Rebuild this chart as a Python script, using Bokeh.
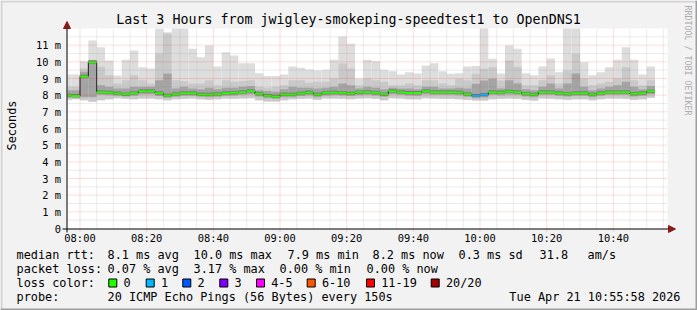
from datetime import datetime, timedelta
import math
from bokeh.plotting import figure
from bokeh.models import Range1d, Label, Arrow, NormalHead, ColumnDataSource
from bokeh.core.properties import value
from bokeh.embed import file_html
from bokeh.resources import INLINE

MONO = "DejaVu Sans Mono"

# ---------------- data (one bar per 150 s probe step, 07:55 .. 10:50) -------------
first_bar = datetime(2026, 4, 21, 7, 55, 0)
step_seconds = 150

median_ms = [
    7.98, 7.95, 9.12, 9.98, 8.18, 8.16, 8.10, 8.05, 8.12, 8.24,
    8.24, 8.12, 7.98, 8.06, 8.12, 8.12, 8.04, 8.04, 8.06, 8.12,
    8.14, 8.18, 8.24, 8.08, 7.97, 7.92, 8.04, 8.04, 8.10, 8.16,
    8.04, 8.14, 8.16, 8.14, 8.10, 8.17, 8.18, 8.14, 8.05, 8.24,
    8.18, 8.13, 8.13, 8.24, 8.18, 8.18, 8.18, 8.16, 8.06, 7.97,
    8.02, 8.18, 8.16, 8.22, 8.18, 8.08, 8.04, 8.18, 8.18, 8.12,
    8.08, 8.12, 8.12, 8.04, 8.12, 8.18, 8.18, 8.18, 8.08, 8.12,
    8.23,
]
smoke_max = [
    9.24, 9.24, 10.04, 11.28, 10.88, 10.08, 9.18, 10.12, 10.68, 9.68,
    9.60, 11.98, 11.78, 12.0, 12.0, 10.78, 10.28, 10.98, 9.72, 10.58,
    10.38, 9.92, 9.92, 9.32, 9.15, 9.15, 9.24, 9.72, 9.64, 9.54,
    9.48, 9.52, 10.12, 11.52, 11.08, 9.00, 10.12, 10.04, 9.52, 9.44,
    9.24, 9.38, 9.30, 9.78, 9.92, 9.44, 9.28, 9.32, 9.72, 9.75,
    12.0, 10.18, 9.30, 10.98, 10.78, 9.32, 9.20, 9.72, 10.20, 9.38,
    12.0, 12.0, 9.98, 9.20, 9.38, 9.68, 10.12, 10.88, 10.12, 9.24,
    9.72,
]
smoke_upper = [
    8.50, 8.50, 9.60, 10.10, 9.70, 9.20, 8.70, 8.90, 9.20, 8.90,
    8.70, 10.50, 11.70, 8.90, 8.85, 8.70, 8.70, 8.90, 8.60, 8.90,
    8.80, 8.85, 8.90, 8.50, 8.45, 8.50, 8.60, 8.90, 8.90, 8.75,
    8.80, 8.80, 9.00, 9.90, 9.60, 8.60, 9.00, 8.90, 8.80, 8.60,
    8.60, 8.70, 8.60, 8.90, 8.90, 8.70, 8.60, 8.98, 8.90, 9.28,
    9.58, 9.68, 8.88, 10.08, 9.70, 8.60, 8.60, 8.90, 9.20, 8.70,
    9.48, 10.48, 9.00, 8.60, 8.70, 8.80, 9.00, 9.68, 8.90, 8.60,
    8.90,
]
core_top = [
    8.30, 8.30, 9.40, 10.10, 8.60, 8.50, 8.40, 8.40, 8.50, 8.50,
    8.50, 8.90, 9.30, 8.40, 8.50, 8.40, 8.35, 8.45, 8.35, 8.45,
    8.45, 8.50, 8.55, 8.30, 8.25, 8.20, 8.35, 8.50, 8.45, 8.45,
    8.40, 8.45, 8.50, 8.70, 8.60, 8.40, 8.50, 8.45, 8.35, 8.45,
    8.40, 8.40, 8.35, 8.50, 8.50, 8.40, 8.40, 8.45, 8.40, 8.68,
    8.88, 8.98, 8.40, 8.90, 8.70, 8.35, 8.30, 8.50, 8.70, 8.40,
    8.70, 9.30, 8.50, 8.30, 8.40, 8.50, 8.60, 8.80, 8.50, 8.35,
    8.55,
]
core_bottom = [
    7.85, 7.85, 7.88, 7.88, 8.02, 8.00, 7.96, 7.92, 7.96, 8.06,
    8.06, 7.95, 7.84, 7.90, 7.96, 7.96, 7.90, 7.88, 7.90, 7.96,
    7.98, 8.02, 8.06, 7.92, 7.82, 7.78, 7.88, 7.88, 7.95, 8.00,
    7.88, 7.98, 8.00, 7.98, 7.95, 8.00, 8.02, 7.98, 7.90, 8.06,
    8.02, 7.98, 7.97, 8.06, 8.02, 8.02, 8.02, 8.00, 7.90, 7.82,
    7.86, 8.02, 8.00, 8.04, 8.02, 7.92, 7.88, 8.02, 8.02, 7.96,
    7.92, 7.96, 7.96, 7.88, 7.96, 8.02, 8.02, 8.02, 7.92, 7.96,
    8.06,
]
smoke_min = [
    7.72, 7.75, 7.70, 7.60, 7.70, 7.75, 7.82, 7.78, 7.75, 7.80,
    7.80, 7.75, 7.70, 7.75, 7.78, 7.80, 7.75, 7.72, 7.75, 7.80,
    7.78, 7.80, 7.82, 7.70, 7.62, 7.62, 7.70, 7.75, 7.78, 7.80,
    7.72, 7.80, 7.80, 7.78, 7.75, 7.80, 7.82, 7.78, 7.70, 7.82,
    7.80, 7.75, 7.75, 7.82, 7.80, 7.78, 7.78, 7.75, 7.72, 7.68,
    7.68, 7.75, 7.78, 7.80, 7.78, 7.72, 7.68, 7.80, 7.78, 7.75,
    7.72, 7.75, 7.75, 7.70, 7.75, 7.80, 7.80, 7.78, 7.72, 7.75,
    7.85,
]
lost_pings = [0] * 49 + [1, 1] + [0] * 20

loss_labels = ["0", "1", "2", "3", "4-5", "6-10", "11-19", "20/20"]
loss_upper = [0, 1, 2, 3, 5, 10, 19, 20]
loss_colors = ["#26ff00", "#00b8ff", "#0059ff", "#7e00ff", "#ff00ff",
               "#ff5500", "#ff0000", "#a10000"]

x_tick_labels = ["08:00", "08:20", "08:40", "09:00", "09:20", "09:40",
                 "10:00", "10:20", "10:40"]
y_tick_values = [0, 1, 2, 3, 4, 5, 6, 7, 8, 9, 10, 11]
y_tick_labels = ["0", "1 m", "2 m", "3 m", "4 m", "5 m", "6 m", "7 m", "8 m",
                 "9 m", "10 m", "11 m"]
title_text = "Last 3 Hours from jwigley-smokeping-speedtest1 to OpenDNS1"

rtt_stats = [("median rtt:", 16), ("8.1 ms avg", 107), ("10.0 ms max", 193),
             ("7.9 ms min", 287), ("8.2 ms now", 372), ("0.3 ms sd", 458),
             ("31.8", 539), ("am/s", 587)]
loss_stats = [("packet loss:", 16), ("0.07 % avg", 107), ("3.17 % max", 193),
              ("0.00 % min", 279), ("0.00 % now", 366)]
probe_text = "20 ICMP Echo Pings (56 Bytes) every 150s"
stamp_text = "Tue Apr 21 10:55:58 2026"

# ---------------- geometry -------------------------------------------------------
W, H = 697, 310
PL, PT, PW, PH = 67, 28, 600, 200          # plot area in canvas px
plot_start = datetime(2026, 4, 21, 7, 56, 15)
plot_end = plot_start + timedelta(hours=3)
Y_MAX = 12.0
EPOCH = datetime(1970, 1, 1)


def ms(dt):
    return (dt - EPOCH).total_seconds() * 1000.0


SPAN_MS = ms(plot_end) - ms(plot_start)
PX_MS = SPAN_MS / PW                        # time per pixel
PX_Y = Y_MAX / PH                           # ms per pixel


def X(cx):   # canvas px -> x data (epoch ms)
    return ms(plot_start) + (cx - PL) * PX_MS


def Y(cy):   # canvas px -> y data (ms)
    return (PT + PH - cy) * PX_Y


def color_for(lost):
    for up, col in zip(loss_upper, loss_colors):
        if lost <= up:
            return col
    return loss_colors[-1]


n = len(median_ms)
step = timedelta(seconds=step_seconds)
t0 = [first_bar + i * step for i in range(n)]
t1 = [t + step for t in t0]

src = ColumnDataSource(dict(
    t0=t0, t1=t1, med=median_ms, hi=smoke_max, up=smoke_upper,
    ctop=core_top, cbot=core_bottom, lo=smoke_min,
    dlo=[m - 0.08 for m in median_ms], dhi=[m + 0.10 for m in median_ms],
    col=[color_for(v) for v in lost_pings],
))

p = figure(width=W, height=H,
           x_range=Range1d(X(0), X(W)), y_range=Range1d(Y(H), Y(0)),
           x_axis_location=None, y_axis_location=None,
           output_backend="svg", toolbar_location=None,
           min_border=0, min_border_left=0, min_border_right=0,
           min_border_top=0, min_border_bottom=0,
           background_fill_color="#f2f2f2", border_fill_color="#f2f2f2",
           outline_line_color=None)
p.xgrid.visible = False
p.ygrid.visible = False

# canvas (white plot area)
p.quad(left=[ms(plot_start)], right=[ms(plot_end)], bottom=[0], top=[Y_MAX],
       fill_color="white", line_color=None)

# smoke
p.quad(left="t0", right="t1", bottom="lo", top="hi", source=src,
       fill_color="#dddddd", line_color=None)
p.quad(left="t0", right="t1", bottom="lo", top="up", source=src,
       fill_color="#c9c9c9", line_color=None)
p.quad(left="t0", right="t1", bottom="cbot", top="ctop", source=src,
       fill_color="#a4a4a4", line_color=None)
p.quad(left="t0", right="t1", bottom="dlo", top="dhi", source=src,
       fill_color="#6e6e6e", line_color=None)
# median steps
p.segment(x0=t1[:-1], x1=t1[:-1], y0=median_ms[:-1], y1=median_ms[1:],
          line_color="#1a1a1a", line_width=1)
p.segment(x0="t0", x1="t1", y0="med", y1="med", source=src,
          line_color="col", line_width=2, line_cap="butt")

# cover smoke that falls left of the plot area
p.quad(left=[X(0)], right=[ms(plot_start)], bottom=[Y(H)], top=[Y(0)],
       fill_color="#f2f2f2", line_color=None)

# grid (drawn over the data, like rrdtool)
t_8 = datetime(2026, 4, 21, 8, 0)
major_x = [t_8 + timedelta(minutes=20 * j) for j in range(len(x_tick_labels))]
minor_x = [t_8 + timedelta(minutes=5 * j) for j in range(36) if j % 4 != 0]
minor_y = [v + 0.5 for v in y_tick_values]
major_y = y_tick_values[1:]
GRAY_A, RED_A = 0.3, 0.27
p.segment(x0=minor_x, x1=minor_x, y0=[0] * len(minor_x), y1=[Y_MAX] * len(minor_x),
          line_color="#808080", line_alpha=GRAY_A, line_dash="1 1", line_width=1)
p.segment(x0=[ms(plot_start)] * len(minor_y), x1=[ms(plot_end)] * len(minor_y),
          y0=minor_y, y1=minor_y,
          line_color="#808080", line_alpha=GRAY_A, line_dash="1 1", line_width=1)
p.segment(x0=major_x, x1=major_x, y0=[Y(231)] * len(major_x), y1=[Y_MAX] * len(major_x),
          line_color="#ff0000", line_alpha=RED_A, line_dash="1 1", line_width=1)
p.segment(x0=[ms(plot_start)] * len(major_y), x1=[ms(plot_end)] * len(major_y),
          y0=major_y, y1=major_y,
          line_color="#ff0000", line_alpha=RED_A, line_dash="1 1", line_width=1)

# axes with arrows
p.add_layout(Arrow(x_start=X(62), y_start=Y(228.5), x_end=X(675), y_end=Y(228.5),
                   line_color="#000000", line_width=1,
                   end=NormalHead(size=7, fill_color="#8b1a1a", line_color="#8b1a1a")))
p.add_layout(Arrow(x_start=X(66.5), y_start=Y(232), x_end=X(66.5), y_end=Y(21),
                   line_color="#000000", line_width=1,
                   end=NormalHead(size=7, fill_color="#8b1a1a", line_color="#8b1a1a")))

# tick labels
p.text(x=major_x, y=[Y(237.5)] * len(major_x), text=x_tick_labels,
       text_font=value(MONO), text_font_size=value("10.4px"),
       text_align="center", text_baseline="middle", text_color="black")
p.text(x=[X(60.5)] * len(y_tick_values), y=y_tick_values, text=y_tick_labels,
       text_font=value(MONO), text_font_size=value("10.4px"),
       text_align="right", text_baseline="middle", text_color="black")


def label(text, cx, cy, size, align="left", color="black", angle=0.0):
    p.add_layout(Label(x=X(cx), y=Y(cy), text=text, text_font=MONO,
                       text_font_size=f"{size}px", text_color=color,
                       text_align=align, text_baseline="middle", angle=angle))


label(title_text, 348, 19, 13.3, align="center")
label("Seconds", 11, 125, 11.85, align="center", angle=math.pi / 2)
label("RRDTOOL / TOBI OETIKER", 687, 60, 8.3, align="center", color="#ababab",
      angle=-math.pi / 2)

for txt, cx in rtt_stats:
    label(txt, cx, 254.3, 11.85)
for txt, cx in loss_stats:
    label(txt, cx, 268.3, 11.85)
label("loss color:", 16, 282.3, 11.85)
box_x = [108.3, 145.7, 182.3, 219.3, 256, 306.7, 366, 430.7]
p.quad(left=[X(b) for b in box_x], right=[X(b + 8) for b in box_x],
       top=[Y(278.5)] * len(box_x), bottom=[Y(286.5)] * len(box_x),
       fill_color=loss_colors, line_color="black", line_width=1)
for lab_txt, bx in zip(loss_labels, box_x):
    label(lab_txt, bx + 14.7, 282.3, 11.85)
label("probe:", 16, 296, 11.85)
label(probe_text, 107, 296, 11.85)
label(stamp_text, 680, 296, 11.85, align="right")

# shaded border of the image
p.quad(left=[X(0), X(0), X(695), X(0)], right=[X(697), X(2), X(697), X(697)],
       top=[Y(0), Y(0), Y(0), Y(308)], bottom=[Y(2), Y(310), Y(310), Y(310)],
       fill_color=["#d4d4d4", "#d4d4d4", "#9e9e9e", "#9e9e9e"], line_color=None)

open("out.html", "w").write(file_html(p, INLINE))
